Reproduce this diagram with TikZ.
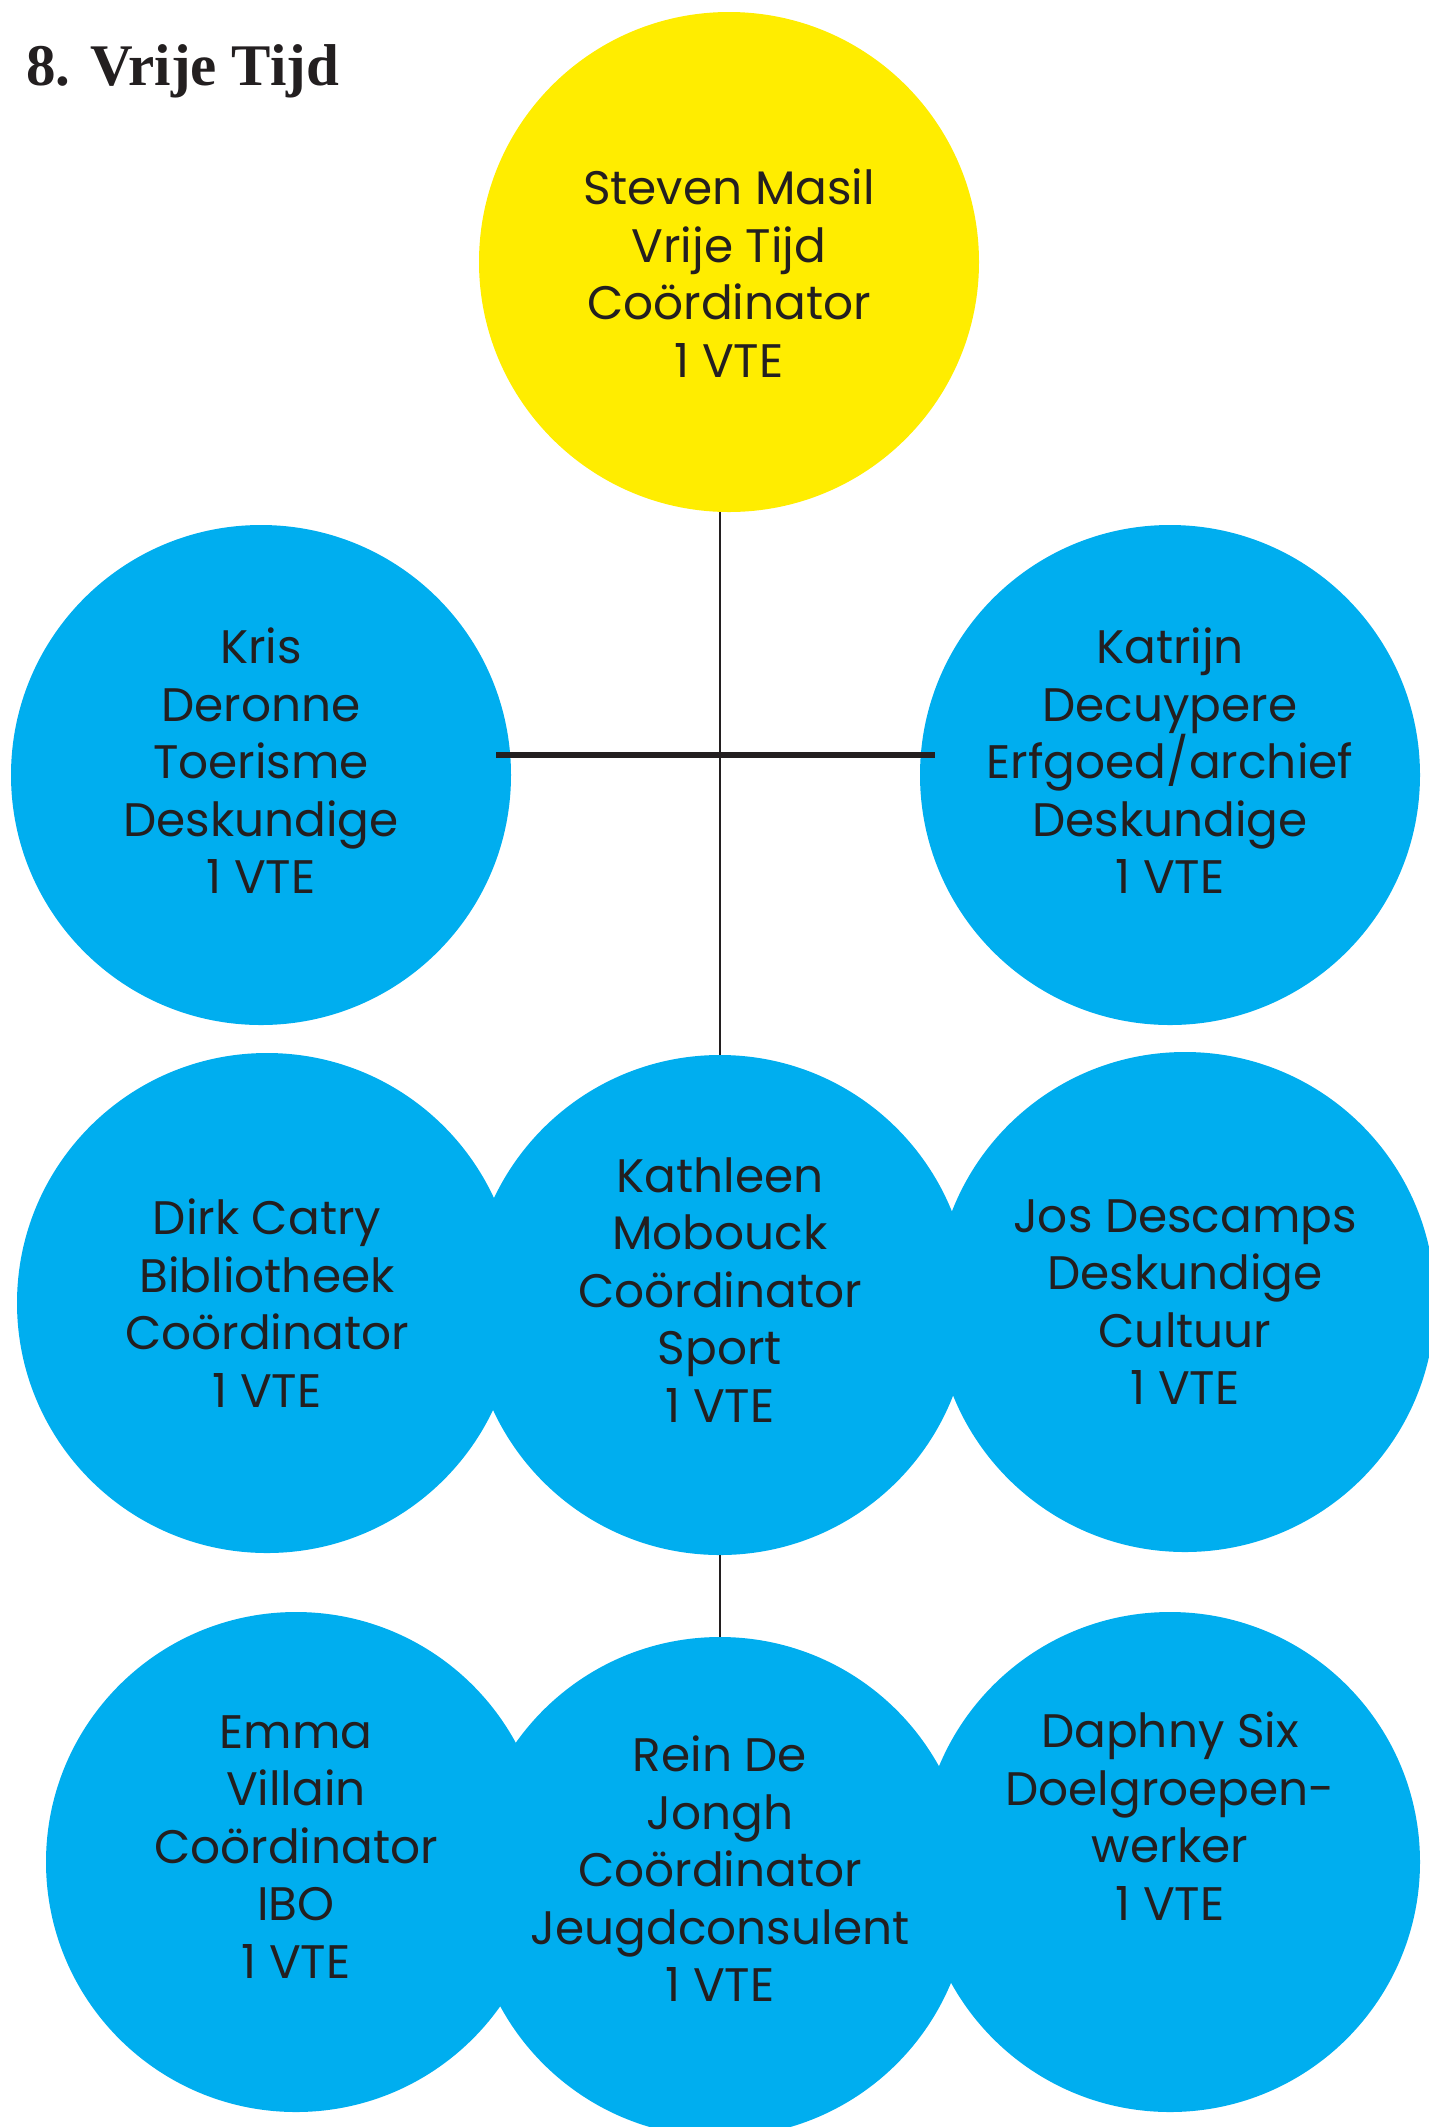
\documentclass[tikz,border=0pt]{standalone}
\usepackage{fontspec}
\setmainfont{Poppins}
\newfontfamily\titlefont{Liberation Serif}
\definecolor{vtblue}{HTML}{00AEEF}
\definecolor{vtyellow}{HTML}{FFED00}
\definecolor{vtink}{HTML}{231F20}
\tikzset{
  staff/.style = {circle, fill=vtblue, minimum size=250pt, inner sep=0pt},
  head/.style = {staff, fill=vtyellow},
  who/.style = {align=center, inner sep=0pt, text=vtink,
    font=\fontsize{23.5}{28.75}\selectfont},
  link/.style = {draw=vtink, line width=1.2pt},
  bar/.style = {draw=vtink, line width=2.6pt}
}

\begin{document}
\begin{tikzpicture}[x=0.5pt, y=-0.5pt]
            \useasboundingbox (0,0) rectangle (1429,2127);
            \node[anchor=base west, inner sep=0pt, text=vtink, font=\titlefont\bfseries\fontsize{29.5}{32}\selectfont] (title) at (26,85) {8. Vrije Tijd};

            % top
            \node[head] (steven) at (729,262) {};
            \node[who] (steventxt) at ([yshift=-5.5pt]steven) {Steven Masil\\Vrije Tijd\\Coördinator\\1 VTE};

            % second row
            \node[staff] (kris) at (261,775) {};
            \node[staff] (katrijn) at (1170,775) {};
            \node[who] (kristxt) at ([yshift=7pt]kris) {Kris\\Deronne\\Toerisme\\Deskundige\\1 VTE};
            \node[who] (katrijntxt) at ([yshift=7pt]katrijn) {Katrijn\\Decuypere\\Erfgoed/archief\\Deskundige\\1 VTE};

            % third row
            \node[staff] (dirk) at (267,1303) {};
            \node[staff] (jos) at (1185,1302) {};
            \node[staff] (kathleen) at (720,1305) {};
            \node[who] (dirktxt) at (dirk) {Dirk Catry\\Bibliotheek\\Coördinator\\1 VTE};
            \node[who] (jostxt) at (jos) {Jos Descamps\\Deskundige\\Cultuur\\1 VTE};
            \node[who] (kathleentxt) at ([yshift=7.5pt]kathleen) {Kathleen\\Mobouck\\Coördinator\\Sport\\1 VTE};

            % bottom row
            \node[staff] (emma) at (296,1862) {};
            \node[staff] (daphny) at (1170,1862) {};
            \node[staff] (rein) at (720,1887) {};
            \node[who] (emmatxt) at ([yshift=7.5pt]emma) {Emma\\Villain\\Coördinator\\IBO\\1 VTE};
            \node[who] (daphnytxt) at ([yshift=23pt]daphny) {Daphny Six\\Doelgroepen-\\werker\\1 VTE};
            \node[who] (reintxt) at ([yshift=9pt]rein) {Rein De\\Jongh\\Coördinator\\Jeugdconsulent\\1 VTE};

            \coordinate (hleft) at (496,755);
            \coordinate (hright) at (935,755);

            \draw[link] (kathleen.north) -- (kathleen.north |- steven.south);
            \draw[bar] (hleft) -- (hright);
            \draw[link] (kathleen.south) -- (rein.north);
\end{tikzpicture}
\end{document}
